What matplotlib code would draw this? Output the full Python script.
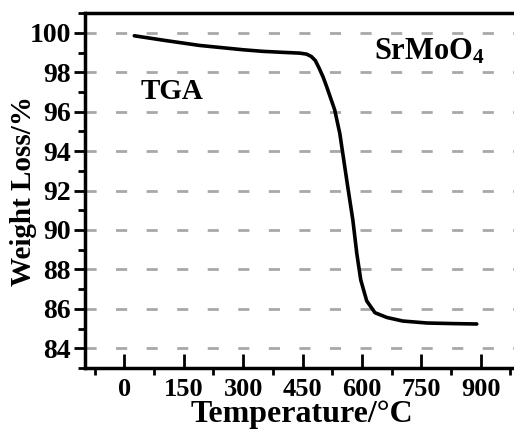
import matplotlib
matplotlib.use("Agg")
import matplotlib.pyplot as plt
from matplotlib.ticker import MultipleLocator

# ================================
# Datos TGA SrMoO4
# ================================

temperatura = [25, 100, 190, 250, 300, 350, 400, 443, 460, 472, 482, 492, 502, 511,
               531, 544, 554, 564, 577, 587, 597, 612, 633, 663, 703, 764, 830, 890]
peso = [99.85, 99.62, 99.36, 99.24, 99.14, 99.06, 99.01, 98.97, 98.92, 98.8, 98.6,
        98.2, 97.75, 97.26, 96.1, 94.9, 93.55, 92.2, 90.5, 88.8, 87.46, 86.4, 85.8,
        85.56, 85.38, 85.28, 85.25, 85.23]

y_ticks = [84, 86, 88, 90, 92, 94, 96, 98, 100]
x_ticks = [0, 150, 300, 450, 600, 750, 900]

plt.rcParams["font.family"] = ["Liberation Serif", "DejaVu Serif"]
plt.rcParams["font.weight"] = "bold"
plt.rcParams["mathtext.fontset"] = "custom"
plt.rcParams["mathtext.rm"] = "Liberation Serif:bold"
plt.rcParams["mathtext.it"] = "Liberation Serif:bold"

fig = plt.figure(figsize=(5.14, 4.37), dpi=100)
ax = fig.add_axes([0.165, 0.158, 0.835, 0.812])

# lineas de grilla
for y in y_ticks:
    ax.axhline(y, color="#a8a8a8", lw=2, ls=(0, (4, 7)), zorder=1)

ax.plot(temperatura, peso, color="black", lw=2.6, zorder=3,
        solid_joinstyle="round", solid_capstyle="round")

ax.set_xlim(-100, 984)
ax.set_ylim(83, 101)

ax.set_xticks(x_ticks)
ax.set_xticks([-75 + 150 * i for i in range(8)], minor=True)
ax.set_yticks(y_ticks)
ax.yaxis.set_minor_locator(MultipleLocator(1))

ax.tick_params(axis="x", which="major", direction="in", length=10, width=2,
               labelsize=19, pad=7)
ax.tick_params(axis="x", which="minor", direction="out", length=5, width=2)
ax.tick_params(axis="y", which="major", direction="out", length=8, width=2,
               labelsize=20, pad=2)
ax.tick_params(axis="y", which="minor", direction="out", length=5, width=2)

for lado in ["left", "bottom", "top"]:
    ax.spines[lado].set_linewidth(2.5)
ax.spines["right"].set_visible(False)

ax.text(119, 97.0, "TGA", fontsize=21, fontweight="bold", ha="center", va="center")
ax.text(771, 99.05, r"SrMoO$_4$", fontsize=22, fontweight="bold", ha="center", va="center")

ax.set_xlabel("Temperature/°C", fontsize=23, fontweight="bold")
ax.xaxis.set_label_coords(0.505, -0.09)
ax.set_ylabel("Weight Loss/%", fontsize=21, fontweight="bold")
ax.yaxis.set_label_coords(-0.112, 0.5)

fig.savefig("out.png", dpi=100)
